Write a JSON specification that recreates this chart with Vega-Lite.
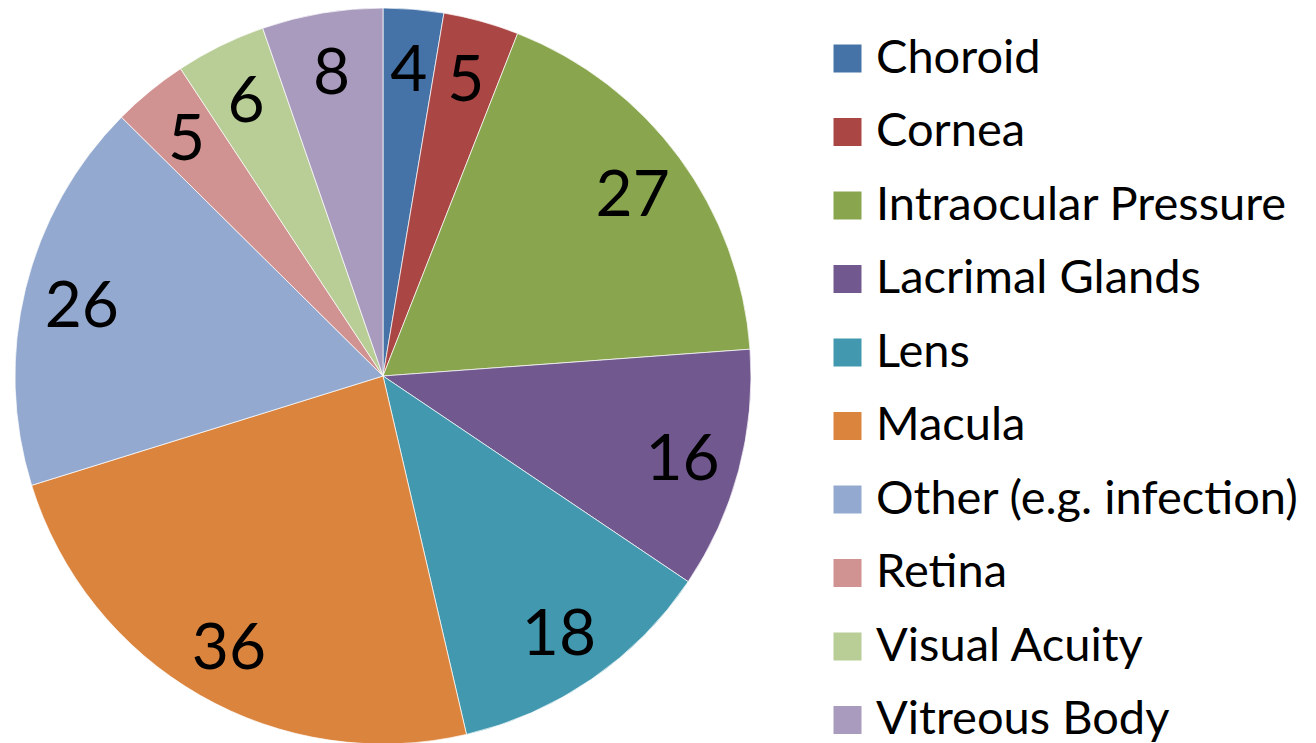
{
  "$schema": "https://vega.github.io/schema/vega-lite/v6.json",
  "width": 766,
  "height": 752,
  "padding": 0,
  "background": "white",
  "config": {"view": {"stroke": null}},
  "data": {"values": [
    {"part": "Choroid", "count": 4},
    {"part": "Cornea", "count": 5},
    {"part": "Intraocular Pressure", "count": 27},
    {"part": "Lacrimal Glands", "count": 16},
    {"part": "Lens", "count": 18},
    {"part": "Macula", "count": 36},
    {"part": "Other (e.g. infection)", "count": 26},
    {"part": "Retina", "count": 5},
    {"part": "Visual Acuity", "count": 6},
    {"part": "Vitreous Body", "count": 8}
  ]},
  "encoding": {
    "theta": {"field": "count", "type": "quantitative", "stack": true},
    "order": {"field": "part", "type": "nominal", "sort": "ascending"},
    "color": {
      "field": "part", "type": "nominal",
      "scale": {
        "domain": ["Choroid", "Cornea", "Intraocular Pressure", "Lacrimal Glands", "Lens", "Macula", "Other (e.g. infection)", "Retina", "Visual Acuity", "Vitreous Body"],
        "range": ["#4572A7", "#AA4643", "#89A54E", "#71588F", "#4198AF", "#DB843D", "#93A9CF", "#D19392", "#B9CD96", "#A99BBD"]
      },
      "legend": {
        "title": null,
        "orient": "none",
        "legendX": 824,
        "legendY": 35,
        "padding": 0,
        "symbolType": "square",
        "symbolSize": 784,
        "symbolStrokeWidth": 0,
        "symbolOpacity": 1,
        "labelFont": "Lato",
        "labelFontSize": 47,
        "labelColor": "#000000",
        "labelOffset": 5,
        "labelLimit": 600,
        "rowPadding": 25.5
      }
    }
  },
  "layer": [
    {"mark": {"type": "arc", "radius": 368, "stroke": "#ffffff", "strokeWidth": 0.7}},
    {"mark": {"type": "text", "radius": 310, "font": "Lato", "fontSize": 64, "color": "#000000", "align": "center", "baseline": "middle", "dy": 5},
     "encoding": {"text": {"field": "count", "type": "quantitative"}, "color": {"value": "#000000"}}}
  ]
}
